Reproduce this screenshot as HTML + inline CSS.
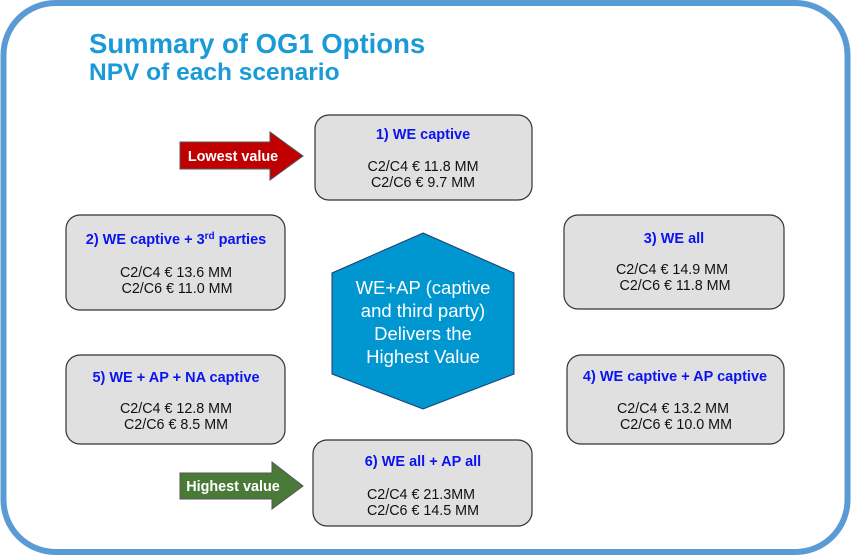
<!DOCTYPE html>
<html><head><meta charset="utf-8"><style>
html,body{margin:0;padding:0;background:#fff;}
svg{display:block;}
text{font-family:"Liberation Sans",Arial,sans-serif;}
.h{font-weight:bold;fill:#0a14f0;font-size:14.5px;text-anchor:middle;}
.v{fill:#111;font-size:14.3px;text-anchor:middle;}
.b{fill:#e0e0e0;stroke:#333;stroke-width:1.2;}
</style></head><body>
<svg width="851" height="556" viewBox="0 0 851 556">
<rect x="3.5" y="3" width="844" height="549" rx="52" fill="#fff" stroke="#5b9bd5" stroke-width="6"/>
<text x="89" y="53" font-size="27.5" font-weight="bold" fill="#1a9ad6">Summary of OG1 Options</text>
<text x="89" y="80" font-size="24.5" font-weight="bold" fill="#1a9ad6">NPV of each scenario</text>

<rect class="b" x="315" y="115" width="217" height="85" rx="14"/>
<text class="h" x="423" y="139">1) WE captive</text>
<text class="v" x="423" y="171">C2/C4 € 11.8 MM</text>
<text class="v" x="423" y="187">C2/C6 € 9.7 MM</text>

<rect class="b" x="66" y="215" width="219" height="95" rx="14"/>
<text class="h" x="176" y="244">2) WE captive + 3<tspan font-size="10" dy="-5">rd</tspan><tspan dy="5"> parties</tspan></text>
<text class="v" x="176" y="277">C2/C4 € 13.6 MM</text>
<text class="v" x="177" y="293">C2/C6 € 11.0 MM</text>

<rect class="b" x="564" y="215" width="220" height="94" rx="14"/>
<text class="h" x="674" y="243">3) WE all</text>
<text class="v" x="672" y="274">C2/C4 € 14.9 MM</text>
<text class="v" x="675" y="290">C2/C6 € 11.8 MM</text>

<rect class="b" x="66" y="355" width="219" height="89" rx="14"/>
<text class="h" x="176" y="382">5) WE + AP + NA captive</text>
<text class="v" x="176" y="413">C2/C4 €  12.8 MM</text>
<text class="v" x="176" y="429">C2/C6 € 8.5 MM</text>

<rect class="b" x="567" y="355" width="217" height="89" rx="14"/>
<text class="h" x="675" y="381">4) WE captive + AP captive</text>
<text class="v" x="673" y="413">C2/C4 € 13.2 MM</text>
<text class="v" x="676" y="429">C2/C6 € 10.0 MM</text>

<rect class="b" x="313" y="440" width="219" height="86" rx="14"/>
<text class="h" x="423" y="466">6) WE all + AP all</text>
<text class="v" x="421" y="499">C2/C4 € 21.3MM</text>
<text class="v" x="423" y="515">C2/C6 € 14.5 MM</text>

<polygon points="423,233 514,273 514,374 423,409 332,374 332,273" fill="#0097d1" stroke="#1f3a6e" stroke-width="1"/>
<text x="423" y="294" font-size="18.5" fill="#fff" text-anchor="middle">WE+AP (captive</text>
<text x="423" y="317" font-size="18.5" fill="#fff" text-anchor="middle">and third party)</text>
<text x="423" y="340" font-size="18.5" fill="#fff" text-anchor="middle">Delivers the</text>
<text x="423" y="363" font-size="18.5" fill="#fff" text-anchor="middle">Highest Value</text>

<polygon points="180,142 270,142 270,132 303,156 270,180 270,169 180,169" fill="#c00000" stroke="#555" stroke-width="1"/>
<text x="233" y="161" font-size="14.4" font-weight="bold" fill="#fff" text-anchor="middle">Lowest value</text>

<polygon points="180,473 272,473 272,462 303,486 272,509 272,499 180,499" fill="#4a7a38" stroke="#555" stroke-width="1"/>
<text x="233" y="491" font-size="14.4" font-weight="bold" fill="#fff" text-anchor="middle">Highest value</text>
</svg>
</body></html>
